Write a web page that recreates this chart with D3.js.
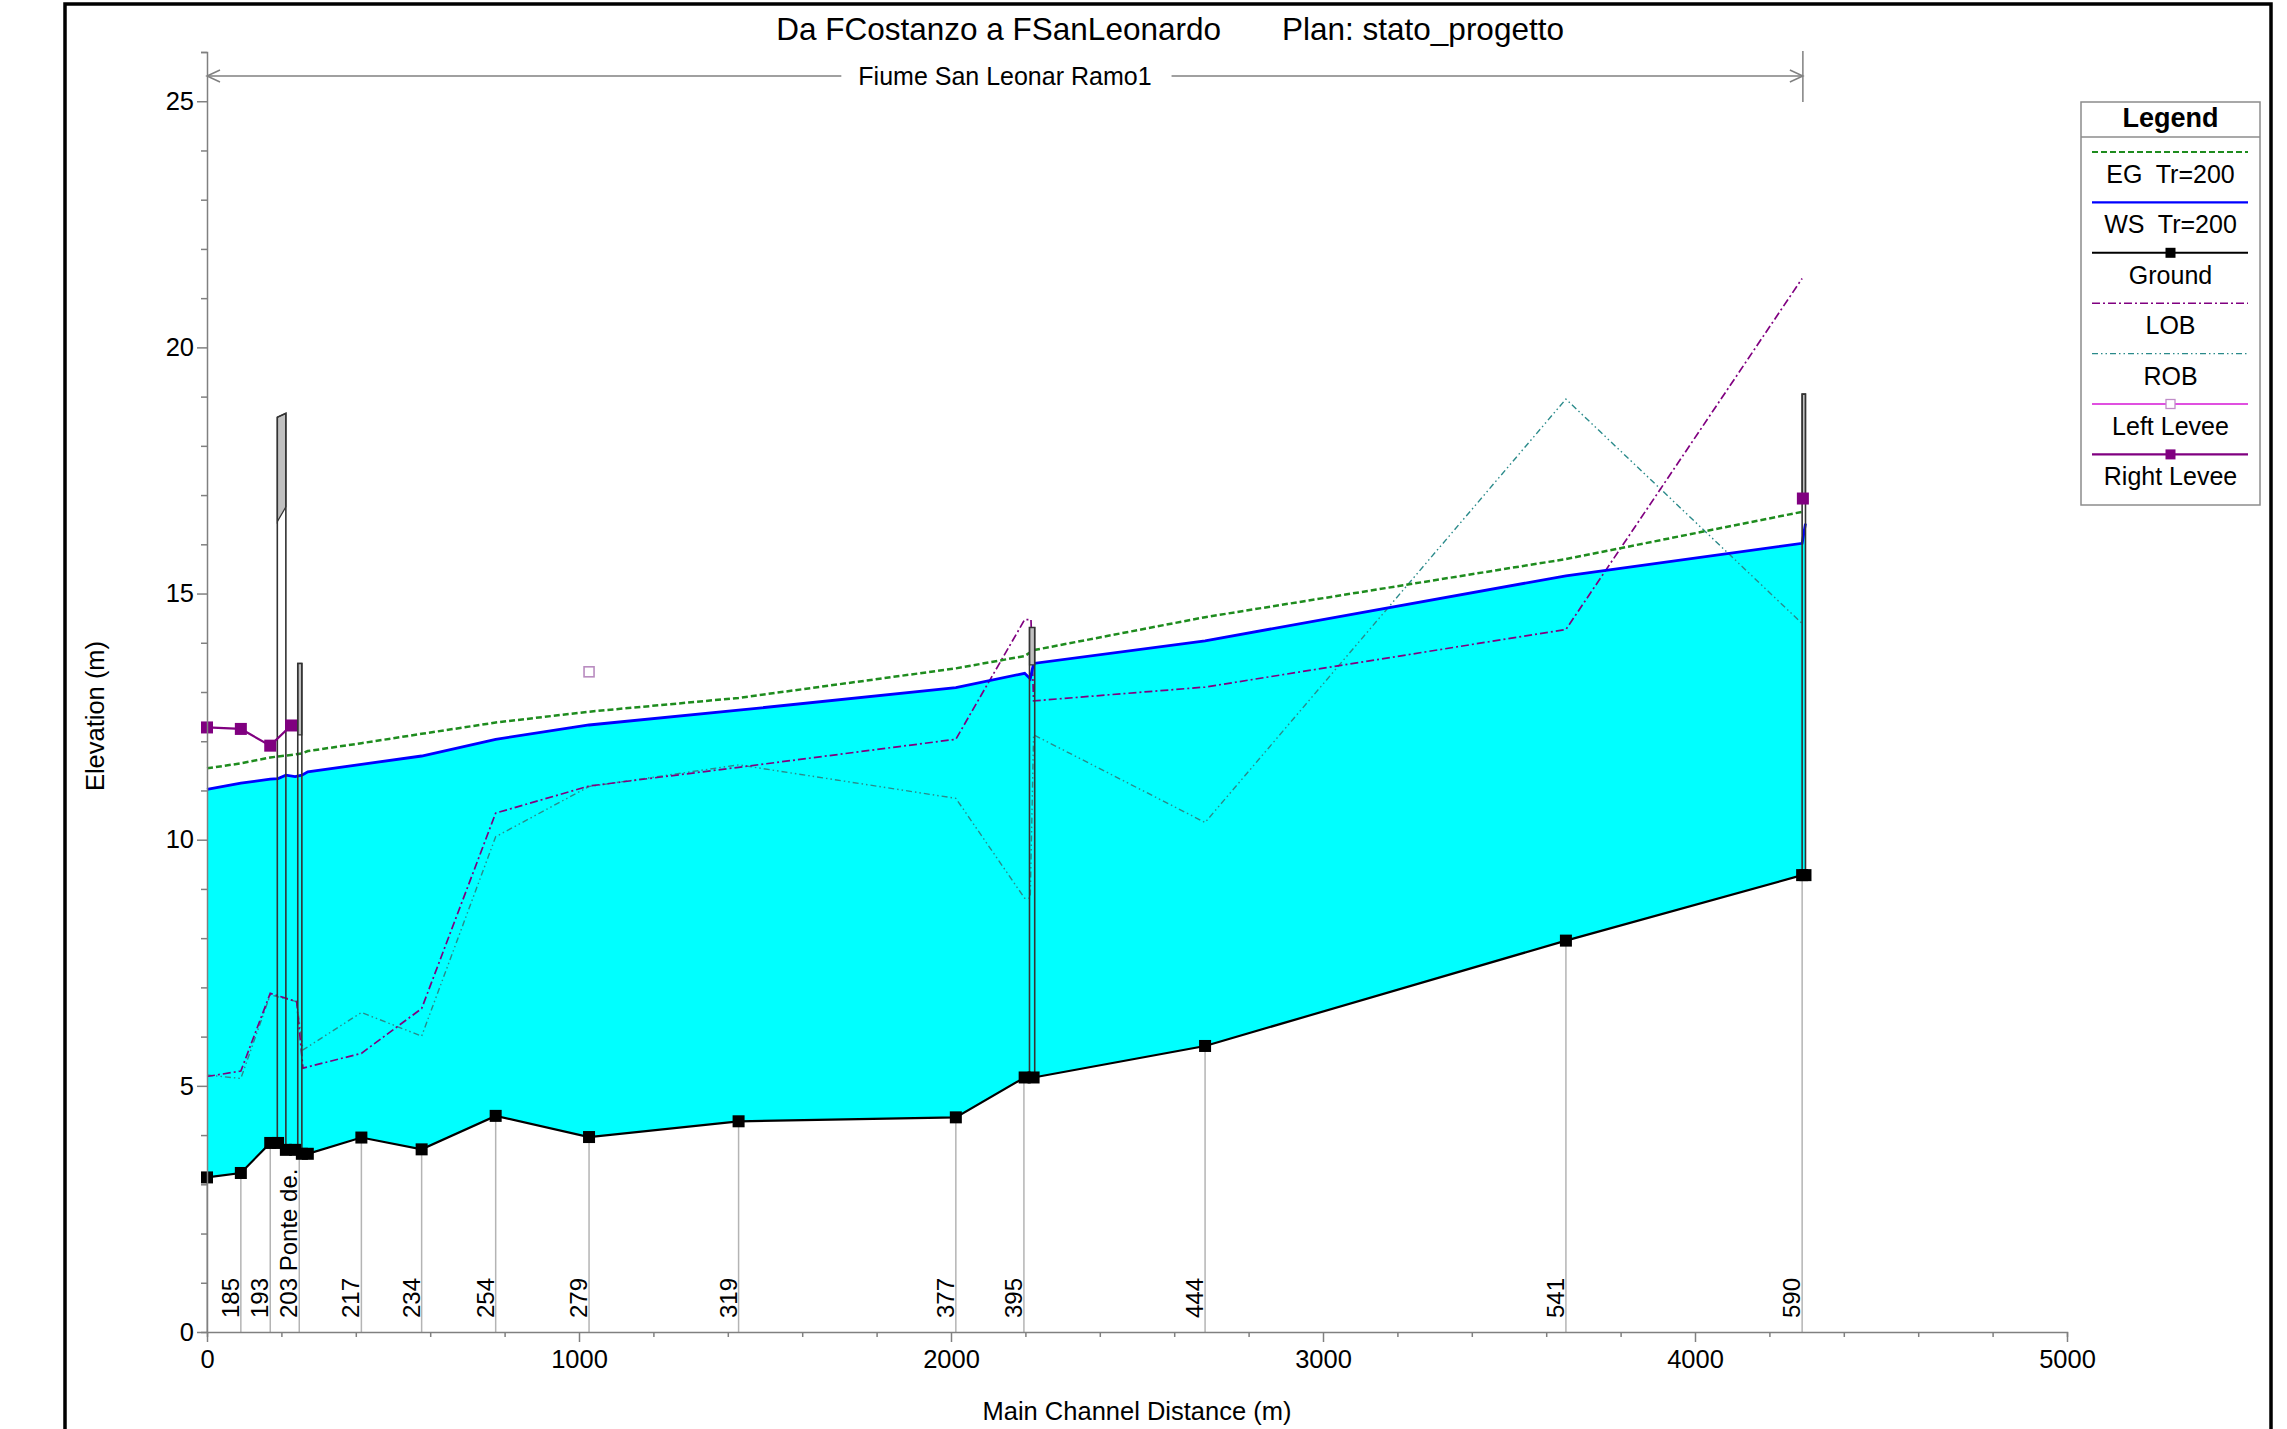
<!DOCTYPE html>
<html>
<head>
<meta charset="utf-8">
<script src="https://cdn.jsdelivr.net/npm/d3@7"></script>
<style>
  body { margin: 0; background: #ffffff; }
  svg { display: block; font-family: "Liberation Sans", Arial, sans-serif; }
</style>
</head>
<body>
<svg id="chart"></svg>
<script>
const width = 2287;
const height = 1429;

// ground profile (main channel distance m / elevation m)
const groundDist = [0, 91, 170, 191, 212, 237, 255, 271, 415, 577, 776, 1027, 1429, 2013, 2198, 2222, 2683, 3653, 4288, 4297];
const groundElev = [3.14, 3.23, 3.84, 3.84, 3.70, 3.70, 3.62, 3.62, 3.95, 3.71, 4.39, 3.96, 4.28, 4.36, 5.17, 5.17, 5.81, 7.95, 9.28, 9.28];

// water surface Tr=200
const wsDist = [0, 91, 170, 191, 212, 237, 255, 271, 415, 577, 776, 1027, 1429, 2013, 2198, 2213, 2222, 2683, 3653, 4288, 4297];
const wsElev = [11.02, 11.15, 11.23, 11.24, 11.31, 11.28, 11.31, 11.38, 11.53, 11.70, 12.04, 12.33, 12.63, 13.09, 13.38, 13.27, 13.58, 14.04, 15.36, 16.02, 16.42];

// energy grade Tr=200
const egDist = [0, 91, 170, 255, 271, 415, 577, 776, 1027, 1429, 2013, 2198, 2222, 2683, 3653, 4288];
const egElev = [11.45, 11.55, 11.67, 11.75, 11.80, 11.96, 12.15, 12.38, 12.60, 12.88, 13.48, 13.73, 13.85, 14.52, 15.70, 16.66];

// bank stations
const lobDist = [0, 91, 170, 241, 258, 415, 577, 776, 1027, 1429, 2013, 2198, 2215, 2222, 2683, 3653, 4288];
const lobElev = [5.19, 5.30, 6.88, 6.71, 5.36, 5.66, 6.57, 10.54, 11.09, 11.47, 12.04, 14.47, 14.47, 12.82, 13.10, 14.27, 21.40];
const robDist = [0, 91, 170, 241, 258, 415, 577, 776, 1027, 1429, 2013, 2198, 2213, 2222, 2683, 3653, 4288];
const robElev = [5.22, 5.15, 6.85, 6.71, 5.73, 6.49, 6.01, 10.06, 11.08, 11.52, 10.84, 8.81, 8.81, 12.13, 10.35, 18.95, 14.39];

// levees (null = no levee at that section)
const leftLeveeDist = [1027];
const leftLeveeElev = [13.41];
const rightLeveeDist = [0, 91, 170, 226, 1027, 4290];
const rightLeveeElev = [12.28, 12.25, 11.91, 12.32, null, 16.93];

// bridges: upstream / downstream face, high chord, low chord
const bridgeUpDist = [189, 244, 2211, 4288];
const bridgeDnDist = [212, 255, 2225, 4297];
const bridgeHighUp = [18.58, 13.58, 14.31, 19.05];
const bridgeHighDn = [18.66, 13.58, 14.31, 19.05];
const bridgeLowUp = [16.46, 12.13, 13.55, 16.95];
const bridgeLowDn = [16.76, 12.13, 13.55, 16.95];

// river station labels
const stationDist = [0, 91, 170, 248, 415, 577, 776, 1027, 1429, 2013, 2196, 2683, 3653, 4288];
const stationLabels = ["", "185", "193", "203 Ponte de.", "217", "234", "254", "279", "319", "377", "395", "444", "541", "590"];

const xTicks = [0, 1000, 2000, 3000, 4000, 5000];
const yTicks = [0, 5, 10, 15, 20, 25];
const legendLabels = ["EG  Tr=200", "WS  Tr=200", "Ground", "LOB", "ROB", "Left Levee", "Right Levee"];
const reachName = "Fiume San Leonar Ramo1";
const reachEnd = 4290;

const svg = d3.select("#chart").attr("width", width).attr("height", height);

const x = d3.scaleLinear().domain([0, 5000]).range([207, 2067]);
const y = d3.scaleLinear().domain([0, 26]).range([1332, 52]);
const groundAt = d3.scaleLinear().domain(groundDist).range(groundElev);

const pts = (ds, es) => ds.map((d, i) => [d, es[i]]);
const line = d3.line().defined(d => d[1] !== null).x(d => x(d[0])).y(d => y(d[1]));

const ground = pts(groundDist, groundElev);
const ws = pts(wsDist, wsElev);

// water between ground and WS
svg.append("path")
  .attr("d", line(ws.concat(ground.slice().reverse())) + "Z")
  .attr("fill", "#00ffff")
  .attr("stroke", "none");

// station lines
svg.append("g").selectAll("line")
  .data(stationDist)
  .join("line")
  .attr("x1", d => x(d)).attr("x2", d => x(d))
  .attr("y1", d => y(groundAt(d))).attr("y2", y(0))
  .attr("stroke", "#b4b4b4").attr("stroke-width", 1.5);

svg.append("path").attr("d", line(pts(robDist, robElev)))
  .attr("fill", "none").attr("stroke", "#2a8a8a").attr("stroke-width", 1.4)
  .attr("stroke-dasharray", "6,3,1.5,3,1.5,3");

svg.append("path").attr("d", line(pts(lobDist, lobElev)))
  .attr("fill", "none").attr("stroke", "#800080").attr("stroke-width", 1.7)
  .attr("stroke-dasharray", "8,3,2,3");

svg.append("path").attr("d", line(pts(egDist, egElev)))
  .attr("fill", "none").attr("stroke", "#1e8c1e").attr("stroke-width", 2.5)
  .attr("stroke-dasharray", "6,3");

svg.append("path").attr("d", line(ws))
  .attr("fill", "none").attr("stroke", "#0000ff").attr("stroke-width", 2.8);

svg.append("path").attr("d", line(ground))
  .attr("fill", "none").attr("stroke", "#000000").attr("stroke-width", 2.2);

// bridges
bridgeUpDist.forEach((d, i) => {
  const xu = x(d), xd = x(bridgeDnDist[i]);
  svg.append("path")
    .attr("d", "M" + xu + "," + y(bridgeHighUp[i]) + "L" + xd + "," + y(bridgeHighDn[i]) +
      "L" + xd + "," + y(bridgeLowDn[i]) + "L" + xu + "," + y(bridgeLowUp[i]) + "Z")
    .attr("fill", "#c0c0c0").attr("stroke", "#333333").attr("stroke-width", 1.2);
  svg.append("path")
    .attr("d", "M" + xu + "," + y(groundAt(d)) + "L" + xu + "," + y(bridgeHighUp[i]) +
      "L" + xd + "," + y(bridgeHighDn[i]) + "L" + xd + "," + y(groundAt(bridgeDnDist[i])))
    .attr("fill", "none").attr("stroke", "#333333").attr("stroke-width", 1.6);
});

// ground markers
svg.append("g").selectAll("rect")
  .data(ground)
  .join("rect")
  .attr("x", d => x(d[0]) - 6).attr("y", d => y(d[1]) - 6)
  .attr("width", 12).attr("height", 12).attr("fill", "#000000");

// levees
const rightLevee = pts(rightLeveeDist, rightLeveeElev);
svg.append("path").attr("d", line(rightLevee))
  .attr("fill", "none").attr("stroke", "#800080").attr("stroke-width", 2.2);
svg.append("g").selectAll("rect")
  .data(rightLevee.filter(d => d[1] !== null))
  .join("rect")
  .attr("x", d => x(d[0]) - 6).attr("y", d => y(d[1]) - 6)
  .attr("width", 12).attr("height", 12).attr("fill", "#800080");
svg.append("g").selectAll("rect")
  .data(pts(leftLeveeDist, leftLeveeElev))
  .join("rect")
  .attr("x", d => x(d[0]) - 5).attr("y", d => y(d[1]) - 5)
  .attr("width", 10).attr("height", 10)
  .attr("fill", "none").attr("stroke", "#b98cc0").attr("stroke-width", 1.6);

// station labels
svg.append("g").selectAll("text")
  .data(stationDist)
  .join("text")
  .attr("transform", d => "translate(" + (x(d) - 2) + ",1318) rotate(-90)")
  .attr("font-size", 24)
  .attr("fill", "#000000")
  .text((d, i) => stationLabels[i]);

// axes
const xAxis = svg.append("g").attr("transform", "translate(0," + y(0) + ")")
  .call(d3.axisBottom(x).tickValues(d3.range(0, 5001, 200)).tickSize(5).tickFormat(""));
xAxis.selectAll(".tick line").filter(d => d % 1000 === 0).attr("y2", 10);
svg.append("g").attr("transform", "translate(0," + y(0) + ")")
  .call(d3.axisBottom(x).tickValues(xTicks).tickSize(0).tickPadding(18).tickFormat(d3.format("d")))
  .call(g => g.select(".domain").remove());

const yAxis = svg.append("g").attr("transform", "translate(" + x(0) + ",0)")
  .call(d3.axisLeft(y).tickValues(d3.range(0, 27, 1)).tickSize(6).tickFormat(""));
yAxis.selectAll(".tick line").filter(d => d % 5 === 0).attr("x2", -10);
svg.append("g").attr("transform", "translate(" + x(0) + ",0)")
  .call(d3.axisLeft(y).tickValues(yTicks).tickSize(0).tickPadding(13).tickFormat(d3.format("d")))
  .call(g => g.select(".domain").remove());

svg.selectAll(".domain, .tick line").attr("stroke", "#808080").attr("stroke-width", 1.5);
svg.selectAll(".tick text").attr("font-size", 25.5).attr("fill", "#000000")
  .attr("font-family", "'Liberation Sans', Arial, sans-serif");

svg.append("text")
  .attr("x", 1137).attr("y", 1420)
  .attr("text-anchor", "middle").attr("font-size", 25.5)
  .text("Main Channel Distance (m)");
svg.append("text")
  .attr("transform", "translate(104,716) rotate(-90)")
  .attr("text-anchor", "middle").attr("font-size", 25.5)
  .text("Elevation (m)");

// title
svg.append("text").attr("x", 1221).attr("y", 40)
  .attr("text-anchor", "end").attr("font-size", 31.5)
  .text("Da FCostanzo a FSanLeonardo");
svg.append("text").attr("x", 1282).attr("y", 40)
  .attr("text-anchor", "start").attr("font-size", 31.5)
  .text("Plan: stato_progetto");

// reach arrow
const ay = 76;
const rx0 = x(0), rx1 = x(reachEnd);
const reachLabel = svg.append("text")
  .attr("x", (rx0 + rx1) / 2).attr("y", ay + 9)
  .attr("text-anchor", "middle").attr("font-size", 25)
  .text(reachName);
const lw = reachLabel.node().getComputedTextLength();
const arrow = svg.append("g").attr("stroke", "#808080").attr("stroke-width", 1.5).attr("fill", "none");
arrow.append("line").attr("x1", rx0).attr("x2", (rx0 + rx1) / 2 - lw / 2 - 17).attr("y1", ay).attr("y2", ay);
arrow.append("line").attr("x1", (rx0 + rx1) / 2 + lw / 2 + 20).attr("x2", rx1).attr("y1", ay).attr("y2", ay);
arrow.append("path").attr("d", "M" + (rx0 + 13) + "," + (ay - 6) + "L" + rx0 + "," + ay + "L" + (rx0 + 13) + "," + (ay + 6));
arrow.append("path").attr("d", "M" + (rx1 - 13) + "," + (ay - 6) + "L" + rx1 + "," + ay + "L" + (rx1 - 13) + "," + (ay + 6));
arrow.append("line").attr("x1", rx1).attr("x2", rx1).attr("y1", 51).attr("y2", 102);

// legend
const lg = svg.append("g");
const lx0 = 2081, lx1 = 2260, lcx = (lx0 + lx1) / 2;
lg.append("rect").attr("x", lx0).attr("y", 102).attr("width", lx1 - lx0).attr("height", 403)
  .attr("fill", "#ffffff").attr("stroke", "#8c8c8c").attr("stroke-width", 1.5);
lg.append("line").attr("x1", lx0).attr("x2", lx1).attr("y1", 137).attr("y2", 137)
  .attr("stroke", "#8c8c8c").attr("stroke-width", 1.5);
lg.append("text").attr("x", lcx).attr("y", 127).attr("text-anchor", "middle")
  .attr("font-size", 27).attr("font-weight", "bold").text("Legend");

const legendStyle = [
  { stroke: "#1e8c1e", dash: "6,3", w: 2 },
  { stroke: "#0000ff", dash: null, w: 2.2 },
  { stroke: "#000000", dash: null, w: 2, mark: "#000000" },
  { stroke: "#800080", dash: "8,3,2,3", w: 1.6 },
  { stroke: "#2a8a8a", dash: "6,3,1.5,3,1.5,3", w: 1.4 },
  { stroke: "#e050e0", dash: null, w: 2, hollow: "#c08cc8" },
  { stroke: "#800080", dash: null, w: 2.4, mark: "#800080" }
];
legendLabels.forEach((lab, i) => {
  const ly = 152 + i * 50.4;
  const s = legendStyle[i];
  lg.append("line").attr("x1", 2092).attr("x2", 2248).attr("y1", ly).attr("y2", ly)
    .attr("stroke", s.stroke).attr("stroke-width", s.w).attr("stroke-dasharray", s.dash);
  if (s.mark) {
    lg.append("rect").attr("x", lcx - 5).attr("y", ly - 5).attr("width", 10).attr("height", 10).attr("fill", s.mark);
  }
  if (s.hollow) {
    lg.append("rect").attr("x", lcx - 4.5).attr("y", ly - 4.5).attr("width", 9).attr("height", 9)
      .attr("fill", "#ffffff").attr("stroke", s.hollow).attr("stroke-width", 1.3);
  }
  lg.append("text").attr("x", lcx).attr("y", ly + 31).attr("text-anchor", "middle")
    .attr("font-size", 25).style("white-space", "pre").text(lab);
});

// frame
svg.append("rect").attr("x", 65).attr("y", 4).attr("width", 2206).attr("height", 1460)
  .attr("fill", "none").attr("stroke", "#000000").attr("stroke-width", 3.5);
</script>
</body>
</html>
